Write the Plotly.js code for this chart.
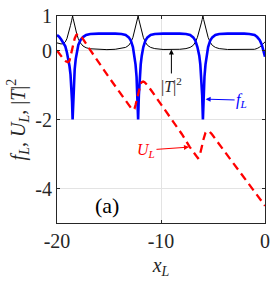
<!DOCTYPE html>
<html>
<head>
<meta charset="utf-8">
<script src="https://cdn.plot.ly/plotly-3.0.1.min.js"></script>
<style>html,body{margin:0;padding:0;background:#fff;}#chart{width:273px;height:284px;}</style>
</head>
<body>
<div id="chart"></div>
<script>
// x positions (x_L) shared by f_L and |T|^2
var xL = [-20, -19.8, -19.6, -19.4, -19.2, -19.05, -18.9, -18.8, -18.7, -18.6, -18.55, -18.5,
  -18.45, -18.4, -18.3, -18.2, -18.1, -17.95, -17.75, -17.5, -17.2, -16.8, -16, -15.2,
  -14.4, -13.8, -13.4, -13.1, -12.9, -12.7, -12.55, -12.45, -12.35, -12.27, -12.2,
  -12.13, -12.05, -11.95, -11.85, -11.7, -11.5, -11.3, -11.0, -10.6, -9.8, -9.0,
  -8.2, -7.6, -7.2, -6.9, -6.7, -6.5, -6.32, -6.22, -6.12, -6.04, -5.97,
  -5.9, -5.82, -5.72, -5.62, -5.47, -5.27, -5.07, -4.77, -4.4, -3.6, -2.8,
  -2.0, -1.5, -1.0, -0.75, -0.5, -0.3, -0.15, 0];
// f_L values
var fL = [0.45, 0.40, 0.32, 0.22, 0.12, -0.05, -0.25, -0.45, -0.70, -1.10, -1.50, -2.0,
  -1.50, -1.05, -0.55, -0.25, -0.02, 0.16, 0.30, 0.39, 0.45, 0.48, 0.49, 0.50,
  0.49, 0.48, 0.45, 0.38, 0.29, 0.10, -0.15, -0.40, -0.76, -1.30, -2.0,
  -1.30, -0.76, -0.40, -0.15, 0.10, 0.29, 0.38, 0.45, 0.48, 0.49, 0.50,
  0.49, 0.48, 0.45, 0.38, 0.29, 0.10, -0.15, -0.40, -0.76, -1.30, -2.0,
  -1.30, -0.76, -0.40, -0.15, 0.10, 0.29, 0.38, 0.45, 0.48, 0.49, 0.50,
  0.49, 0.48, 0.45, 0.39, 0.30, 0.16, 0.02, -0.18];
// |T|^2 values
var T2 = [0.22, 0.20, 0.19, 0.20, 0.25, 0.34, 0.48, 0.60, 0.73, 0.86, 0.93, 1.0,
  0.93, 0.86, 0.74, 0.61, 0.48, 0.34, 0.22, 0.13, 0.08, 0.05, 0.03, 0.025,
  0.035, 0.055, 0.09, 0.15, 0.24, 0.38, 0.55, 0.68, 0.80, 0.90, 1.0,
  0.90, 0.80, 0.68, 0.55, 0.38, 0.24, 0.15, 0.09, 0.055, 0.03, 0.025,
  0.035, 0.055, 0.09, 0.15, 0.24, 0.38, 0.55, 0.68, 0.80, 0.90, 1.0,
  0.90, 0.80, 0.68, 0.55, 0.38, 0.24, 0.15, 0.09, 0.055, 0.03, 0.025,
  0.025, 0.03, 0.035, 0.06, 0.10, 0.16, 0.21, 0.25];
// U_L curve
var xU = [-20, -19.7, -19.4, -19.15, -18.95, -18.8, -18.68, -18.56, -18.44, -18.3, -18.15, -18.0,
  -17.85, -17.6, -17.0, -16.0, -15.0, -14.0, -13.3, -13.0, -12.82, -12.68, -12.55, -12.43,
  -12.32, -12.2, -12.08, -11.95, -11.82, -11.72, -11.58, -11.35, -11.0, -10.0, -9.0, -8.0,
  -7.23, -7.0, -6.8, -6.6, -6.45, -6.32, -6.2, -6.08, -5.97, -5.85, -5.72, -5.6, -5.47,
  -5.33, -5.1, -4.0, -3.0, -2.0, -1.0, -0.5, -0.25, -0.1, 0];
var UL = [0.0, -0.13, -0.24, -0.31, -0.34, -0.30, -0.16, 0.02, 0.20, 0.35, 0.45, 0.48,
  0.46, 0.38, 0.10, -0.35, -0.78, -1.20, -1.50, -1.62, -1.69, -1.72, -1.69, -1.56,
  -1.40, -1.22, -1.06, -0.96, -0.91, -0.90, -0.92, -0.99, -1.13, -1.56, -1.99, -2.42,
  -2.80, -2.90, -3.00, -3.08, -3.12, -3.09, -2.97, -2.80, -2.63, -2.48, -2.38, -2.34, -2.33,
  -2.35, -2.43, -2.88, -3.29, -3.70, -4.11, -4.32, -4.42, -4.47, -4.50];
// ticks
var xTickVals = [-20, -10, 0];
var xTickText = ['-20', '-10', '0'];
var yTickVals = [-4, -2, 0, 1];
var yTickText = ['-4', '-2', '0', '1'];

var serif = '"Liberation Serif", "Times New Roman", Times, serif';
var axisColor = '#262626';

var traces = [
  {x: xL, y: T2, type: 'scatter', mode: 'lines', line: {color: '#000000', width: 1}, hoverinfo: 'skip'},
  {x: xL, y: fL, type: 'scatter', mode: 'lines', line: {color: '#0000ff', width: 2.6}, hoverinfo: 'skip'},
  {x: xU, y: UL, type: 'scatter', mode: 'lines', line: {color: '#ff0000', width: 2.3, dash: '8px,5px'}, hoverinfo: 'skip'}
];

var layout = {
  width: 273, height: 284,
  margin: {l: 57, r: 8, t: 16, b: 61, pad: 0},
  paper_bgcolor: '#ffffff', plot_bgcolor: '#ffffff',
  showlegend: false,
  font: {family: serif, size: 20, color: axisColor},
  xaxis: {
    range: [-20, 0], tickvals: xTickVals, ticktext: xTickText,
    ticks: 'inside', ticklen: 3, tickcolor: axisColor,
    showline: true, linecolor: axisColor, linewidth: 1, mirror: 'ticks',
    showgrid: true, gridcolor: '#e3e3e3', gridwidth: 1, zeroline: false,
    tickfont: {family: serif, size: 20, color: axisColor},
    title: {text: '<i>x</i><sub><i>L</i></sub>', font: {family: serif, size: 20, color: axisColor}, standoff: 6}
  },
  yaxis: {
    range: [-5, 1], tickvals: yTickVals, ticktext: yTickText,
    ticks: 'inside', ticklen: 3, tickcolor: axisColor,
    showline: true, linecolor: axisColor, linewidth: 1, mirror: 'ticks',
    showgrid: true, gridcolor: '#e3e3e3', gridwidth: 1, zeroline: false,
    tickfont: {family: serif, size: 20, color: axisColor},
    title: {text: '<i>f</i><sub><i>L</i></sub>, <i>U</i><sub><i>L</i></sub>, |<i>T</i>|<sup>2</sup>', font: {family: serif, size: 20, color: axisColor}, standoff: 4}
  },
  annotations: [
    {x: -9.0, y: 0.03, xref: 'x', yref: 'y', ax: 0, ay: 36, text: '|<i>T</i>|<sup>2</sup>',
     showarrow: true, arrowhead: 2, arrowsize: 1, arrowwidth: 1, arrowcolor: '#000000',
     font: {family: serif, size: 16, color: '#262626'}},
    {x: -5.71, y: -1.41, xref: 'x', yref: 'y', ax: 36, ay: 1, text: '<i>f</i><sub><i>L</i></sub>',
     showarrow: true, arrowhead: 2, arrowsize: 1, arrowwidth: 1, arrowcolor: '#0000ff',
     font: {family: serif, size: 16, color: '#0000ff'}},
    {x: -7.31, y: -2.8, xref: 'x', yref: 'y', ax: -43, ay: 3, text: '<i>U</i><sub><i>L</i></sub>',
     showarrow: true, arrowhead: 2, arrowsize: 1, arrowwidth: 1, arrowcolor: '#ff0000',
     font: {family: serif, size: 16, color: '#ff0000'}},
    {x: -15.2, y: -4.48, xref: 'x', yref: 'y', text: '(a)', showarrow: false,
     font: {family: serif, size: 22, color: '#000000'}}
  ]
};

Plotly.newPlot('chart', traces, layout, {displayModeBar: false, staticPlot: true});
</script>
</body>
</html>
